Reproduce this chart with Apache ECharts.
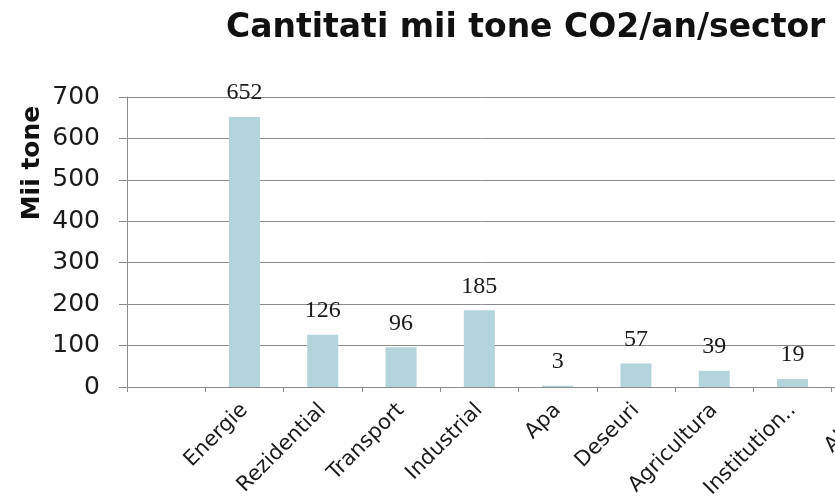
<!DOCTYPE html>
<html>
<head>
<meta charset="utf-8">
<script src="https://cdn.jsdelivr.net/npm/echarts@6/dist/echarts.min.js"></script>
<style>
  html, body { margin: 0; padding: 0; background: #fff; }
  #chart { width: 835px; height: 502px; }
</style>
</head>
<body>
<div id="chart"></div>
<script>
// first slot is empty in the source, last one is cut off at the right edge
const categories = ['', 'Energie', 'Rezidential', 'Transport', 'Industrial', 'Apa', 'Deseuri', 'Agricultura', 'Institution..', 'Altele']
const values = [null, 652, 126, 96, 185, 3, 57, 39, 19, null]
const yTicks = [0, 100, 200, 300, 400, 500, 600, 700]

const chart = echarts.init(document.getElementById('chart'))

const textColor = '#1a1a1a'
const gridColor = '#8c8c8c'

chart.setOption({
  animation: false,
  title: {
    text: 'Cantitati mii tone CO2/an/sector',
    left: 221,
    top: 7,
    textStyle: {
      fontFamily: 'DejaVu Sans',
      fontWeight: 'bold',
      fontSize: 33,
      color: '#111',
    },
  },
  graphic: [
    {
      type: 'text',
      x: 32,
      y: 163,
      rotation: Math.PI / 2,
      style: {
        text: 'Mii tone',
        fontFamily: 'DejaVu Sans',
        fontWeight: 'bold',
        fontSize: 25,
        fill: '#111',
        align: 'center',
        verticalAlign: 'middle',
      },
    },
  ],
  grid: {
    left: 127,
    top: 97,
    bottom: 115,
    right: -75,
    containLabel: false,
    outerBoundsMode: 'none',
  },
  xAxis: {
    type: 'category',
    data: categories,
    axisLine: { lineStyle: { color: gridColor, width: 1 } },
    axisTick: { show: true, length: 5, lineStyle: { color: gridColor } },
    axisLabel: {
      interval: 0,
      rotate: 45,
      margin: 20,
      fontFamily: 'DejaVu Sans',
      fontSize: 21,
      color: textColor,
    },
  },
  yAxis: {
    type: 'value',
    min: 0,
    max: yTicks[yTicks.length - 1],
    interval: yTicks[1] - yTicks[0],
    axisLine: { show: true, lineStyle: { color: gridColor, width: 1 } },
    axisTick: { show: true, length: 8, lineStyle: { color: gridColor } },
    splitLine: { lineStyle: { color: gridColor, width: 1 } },
    axisLabel: {
      margin: 27,
      fontFamily: 'DejaVu Sans',
      fontSize: 25,
      color: textColor,
    },
  },
  series: [
    {
      type: 'bar',
      data: values,
      barWidth: 31,
      itemStyle: { color: '#b3d4dd' },
      label: {
        show: true,
        position: 'top',
        distance: 12,
        fontFamily: 'Liberation Serif',
        fontSize: 24,
        color: textColor,
      },
    },
  ],
})
</script>
</body>
</html>
